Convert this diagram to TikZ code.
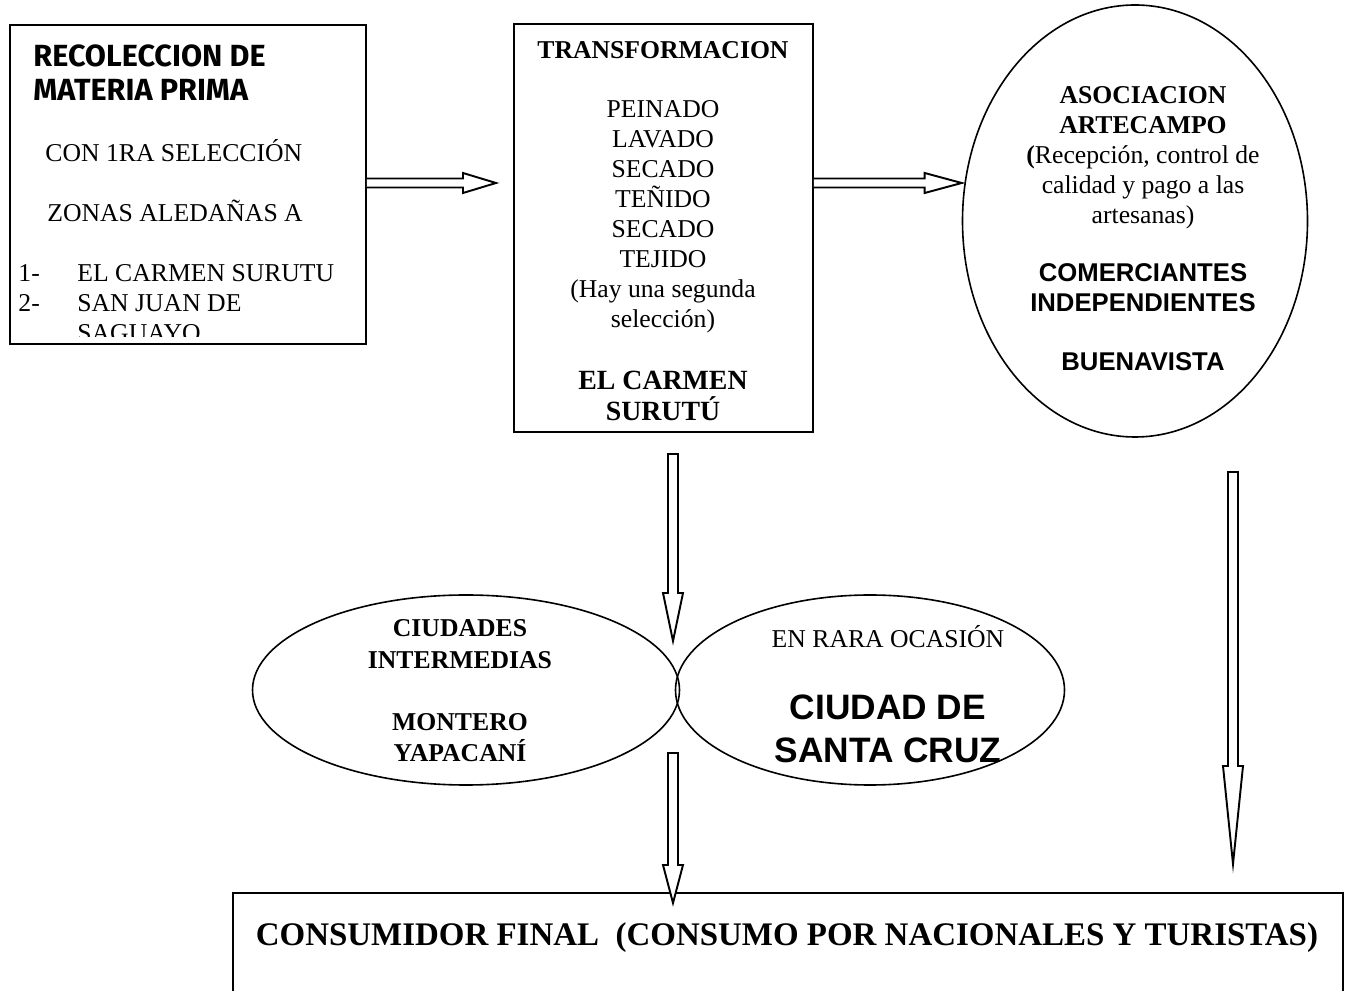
\documentclass[tikz,border=0pt]{standalone}
\usepackage{fontspec}
\setmainfont{Liberation Serif}
\setsansfont{Liberation Sans}
\newfontfamily\comicfont{Fira Sans}
\usetikzlibrary{positioning,calc,fit,shapes.geometric}
\tikzset{box/.style={draw,line width=0.75pt,rectangle,inner sep=0pt}}
\tikzset{oval/.style={draw,line width=0.75pt,ellipse,inner sep=0pt}}
\tikzset{blockline/.style={line width=0.9pt,fill=white,line join=miter}}
\tikzset{txt/.style={inner sep=0pt,font=\fontsize{12}{14}\selectfont}}
\tikzset{btxt/.style={txt,font=\fontsize{12}{14}\selectfont\bfseries}}
\tikzset{stxt/.style={txt,font=\fontsize{12}{14}\selectfont\sffamily\bfseries}}
\tikzset{ctxt/.style={txt,font=\fontsize{14.3}{16}\selectfont\comicfont\bfseries}}
\def\px{0.4673pt}
% hollow block arrows: [head length]{start}{tip}
\newcommand{\hblock}[3][33]{%
  \draw[blockline] ($(#2)+(0,-4.5)$) -- ($(#3)+(-#1,-4.5)$) -- ($(#3)+(-#1,-10)$) -- (#3)
    -- ($(#3)+(-#1,10)$) -- ($(#3)+(-#1,4.5)$) -- ($(#2)+(0,4.5)$);}
\newcommand{\vblock}[3][40]{%
  \draw[blockline] ($(#2)+(-5,0)$) -- ($(#3)+(-5,-#1)$) -- ($(#3)+(-10,-#1)$) -- (#3)
    -- ($(#3)+(10,-#1)$) -- ($(#3)+(5,-#1)$) -- ($(#2)+(5,0)$) -- cycle;}

\begin{document}
\begin{tikzpicture}[x=\px,y=-\px]
  \useasboundingbox (0,0) rectangle (1359,991);
  \clip (0,0) rectangle (1359,991);

  % boxes and ovals
  \node[box,fit={(10,25) (366,344)}] (recol) {};
  \node[box,fit={(514,24) (813,432)}] (trans) {};
  \node[oval,minimum width=345*\px,minimum height=432*\px] (asoc) at (1135,221) {};
  \node[oval,minimum width=427*\px,minimum height=190*\px] (ciud) at (466,690) {};
  \node[oval,minimum width=389*\px,minimum height=190*\px] (scz) at (870,690) {};
  \node[box,fit={(233,893) (1343,1010)}] (final) {};

  % text of the first box (cut at the bottom)
  \begin{scope}
    \clip (10,25) rectangle (366,337);
    \node[ctxt,anchor=base west] (r1) at (33,67) {RECOLECCION DE};
    \node[ctxt,anchor=base west] (r2) at (33,101) {MATERIA PRIMA};
    \node[txt,anchor=base west] (r3) at (45,162) {CON 1RA SELECCIÓN};
    \node[txt,anchor=base west] (r4) at (47,222) {ZONAS ALEDAÑAS A};
    \node[txt,anchor=base west] (n1) at (18,282) {1-};
    \node[txt,anchor=base west] (n2) at (18,312) {2-};
    \node[txt,anchor=base west] (z1) at (77,282) {EL CARMEN SURUTU};
    \node[txt,anchor=base west] (z2) at (77,312) {SAN JUAN DE};
    \node[txt,anchor=base west] (z3) at (77,342) {SAGUAYO};
  \end{scope}

  % transformation steps
  \node[btxt,anchor=base] (t0) at (663,59) {TRANSFORMACION};
  \foreach \t [count=\i] in {PEINADO,LAVADO,SECADO,TEÑIDO,SECADO,TEJIDO,{(Hay una segunda},{selección)}}
    \node[txt,anchor=base] (t\i) at (663,88+30*\i) {\t};
  \node[btxt,font=\fontsize{13}{15}\selectfont\bfseries,anchor=base] (c1) at (663,390) {EL CARMEN};
  \node[btxt,font=\fontsize{13}{15}\selectfont\bfseries,anchor=base] (c2) at (663,421) {SURUTÚ};

  % association
  \node[btxt,anchor=base] (a1) at (1143,104) {ASOCIACION};
  \node[btxt,anchor=base] (a2) at (1143,134) {ARTECAMPO};
  \node[txt,anchor=base] (a3) at (1143,164) {\textbf{(}Recepción, control de};
  \node[txt,anchor=base] (a4) at (1143,194) {calidad y pago a las};
  \node[txt,anchor=base] (a5) at (1143,224) {artesanas)};
  \node[stxt,anchor=base] (a6) at (1143,282) {COMERCIANTES};
  \node[stxt,anchor=base] (a7) at (1143,312) {INDEPENDIENTES};
  \node[stxt,anchor=base] (a8) at (1143,371) {BUENAVISTA};

  % cities
  \node[btxt,anchor=base] (i1) at (460,637) {CIUDADES};
  \node[btxt,anchor=base] (i2) at (460,669) {INTERMEDIAS};
  \node[btxt,anchor=base] (i3) at (460,731) {MONTERO};
  \node[btxt,anchor=base] (i4) at (460,762) {YAPACANÍ};
  \node[txt,anchor=base] (s1) at (888,648) {EN RARA OCASIÓN};
  \node[stxt,font=\fontsize{16.5}{18}\selectfont\sffamily\bfseries,anchor=base] (s2) at (888,720) {CIUDAD DE};
  \node[stxt,font=\fontsize{16.5}{18}\selectfont\sffamily\bfseries,anchor=base] (s3) at (888,763) {SANTA CRUZ};

  \node[btxt,font=\fontsize{15.4}{17}\selectfont\bfseries,anchor=base] (f1) at (787,946)
    {CONSUMIDOR FINAL\ \ (CONSUMO POR NACIONALES Y TURISTAS)};

  % arrows
  \coordinate (h1s) at (recol.east |- 0,183);
  \coordinate (h1t) at (496,183);
  \coordinate (h2s) at (trans.east |- 0,183);
  \coordinate (h2t) at (asoc.west |- 0,183);
  \coordinate (v1s) at (673,454);
  \coordinate (v1t) at (673,641);
  \coordinate (v2s) at (1233,472);
  \coordinate (v2t) at (1233,864);
  \coordinate (v3s) at (673,753);
  \coordinate (v3t) at (673,903);
  \hblock{h1s}{h1t}
  \hblock[37]{h2s}{h2t}
  \vblock[48]{v1s}{v1t}
  \vblock[98]{v2s}{v2t}
  \vblock[38]{v3s}{v3t}
\end{tikzpicture}
\end{document}
